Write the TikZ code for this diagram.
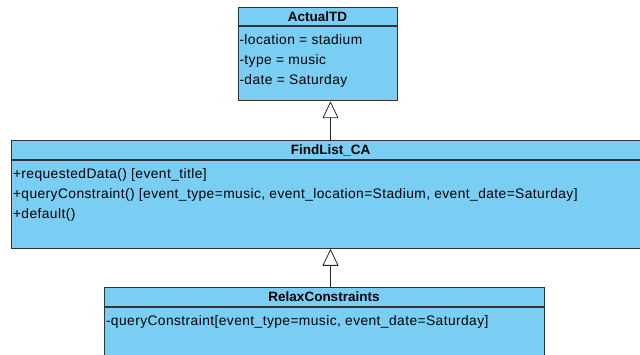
\documentclass[tikz,border=0pt]{standalone}
\usepackage{fontspec}
\setmainfont{Liberation Sans}
\newfontfamily\memberfont[LetterSpace=3]{Liberation Sans}
\usetikzlibrary{positioning,arrows.meta}
\definecolor{umlblue}{RGB}{122,206,244}
\tikzset{
	classhead/.style={draw=black!80,fill=umlblue,font=\fontsize{13.5}{15}\selectfont\bfseries,minimum height=18.5pt,inner sep=0pt},
	classbody/.style={draw=black!80,fill=umlblue,inner sep=0pt},
	members/.style={anchor=north west,align=left,inner sep=0pt,font=\memberfont\fontsize{13.8}{20}\selectfont},
	inherit/.style={-{Triangle[open,length=17pt,width=16pt]},line width=0.8pt,black!85}
}
\begin{document}
\begin{tikzpicture}[line width=1pt]
		\useasboundingbox (0,0) rectangle (640pt,354pt);
		\node[classhead,minimum width=159pt] (atd) at (317.5pt,337.5pt) {ActualTD};
		\node[classbody,minimum width=159pt,minimum height=74pt,below=0pt of atd] (atdbody) {};
		\node[members,below right=8pt and 1.5pt of atdbody.north west] (atdattr) {-location = stadium\\-type = music\\-date = Saturday};
		\node[classhead,minimum width=639pt] (fl) at (330.5pt,204pt) {FindList\_CA};
		\node[classbody,minimum width=639pt,minimum height=88pt,below=0pt of fl] (flbody) {};
		\node[members,below right=8pt and 2pt of flbody.north west] (flops) {+requestedData() [event\_title]\\+queryConstraint() [event\_type=music, event\_location=Stadium, event\_date=Saturday]\\+default()};
		\node[classhead,minimum width=440pt] (rc) at (324pt,57pt) {RelaxConstraints};
		\node[classbody,minimum width=440pt,minimum height=60pt,below=0pt of rc] (rcbody) {};
		\node[members,below right=8pt and 2pt of rcbody.north west] (rcops) {-queryConstraint[event\_type=music, event\_date=Saturday]};
		\draw[inherit] (fl.north) -- (fl.north |- atdbody.south);
		\draw[inherit] (rc.north -| flbody.south) -- (flbody.south);
	\end{tikzpicture}
\end{document}
